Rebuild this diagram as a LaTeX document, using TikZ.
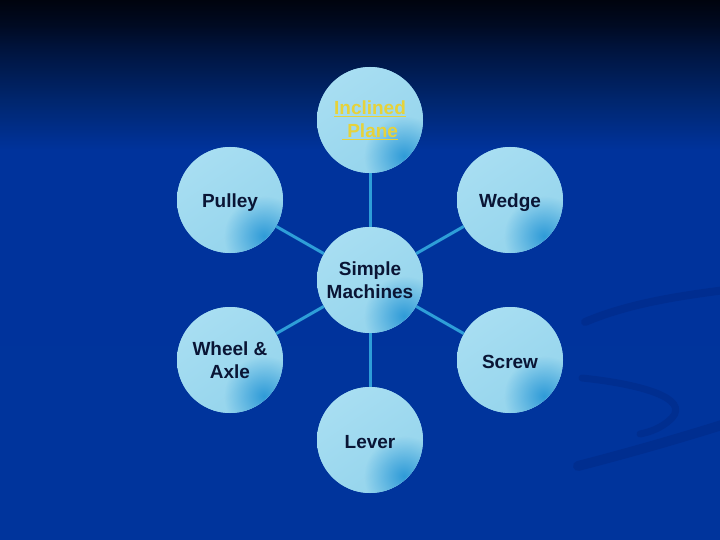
\documentclass[tikz,border=0pt]{standalone}
\usepackage{fontspec}
\setmainfont{Liberation Sans}
\usetikzlibrary{fadings}
\tikzfading[name=spotfade, inner color=transparent!0, outer color=transparent!100]
\definecolor{bgtop}{HTML}{00040E}
\definecolor{bgT}{HTML}{000A22}
\definecolor{bgA}{HTML}{00143E}
\definecolor{bgB}{HTML}{00266E}
\definecolor{bgC}{HTML}{00339C}
\definecolor{bgbot}{HTML}{00349C}
\definecolor{circbase}{HTML}{94D4EC}
\definecolor{hilite}{HTML}{A8DEF2}
\definecolor{spot}{HTML}{2F9BD8}
\definecolor{txt}{HTML}{0A1535}
\definecolor{linkc}{HTML}{2E9ED8}
\definecolor{linkyel}{HTML}{E6D23A}
\definecolor{swoosh}{HTML}{00257E}
\pgfdeclareverticalshading{slidebg}{100bp}{color(0bp)=(bgbot); color(25bp)=(bgbot); color(61.1bp)=(bgC); color(65.7bp)=(bgB); color(70.4bp)=(bgA); color(72.7bp)=(bgT); color(75bp)=(bgtop); color(100bp)=(bgtop)}
\begin{document}
\begin{tikzpicture}[x=1pt,y=-1pt,
  mach/.style={circle, minimum size=106pt, inner sep=0pt, fill=circbase, align=center, text=txt,
    font=\bfseries\fontsize{19}{23}\selectfont,
    path picture={
      \shade[top color=hilite, bottom color=circbase, shading angle=35]
        (path picture bounding box.south west) rectangle (path picture bounding box.north east);
      \fill[spot, path fading=spotfade] ([shift={(34,36)}]path picture bounding box.center) circle (40);
    }},
  lowdesc/.style={text height=17pt, text depth=1.2pt},
  lownodesc/.style={text height=17.7pt, text depth=0pt},
  link/.style={draw=linkc, line width=3pt},
  swo/.style={draw=swoosh, opacity=0.38, line cap=round}]
\useasboundingbox (0,0) rectangle (720,540);
\shade[shading=slidebg] (0,0) rectangle (720,540);
% faint background swooshes
\draw[swo, line width=8pt] (585,322) .. controls (630,303) and (680,296) .. (725,290);
\draw[swo, line width=7pt] (582,378) .. controls (640,384) and (690,398) .. (672,418) .. controls (662,428) and (650,432) .. (640,434);
\draw[swo, line width=10pt] (578,466) .. controls (640,450) and (690,435) .. (725,424);
% nodes
\node[mach] (c)  at (370,280) {Simple\\Machines};
\node[mach, text=linkyel] (ip) at (370,120) {\underline{Inclined}\\\underline{\ Plane}};
\node[mach, lowdesc] (pu) at (230,200) {Pulley};
\node[mach, lowdesc] (we) at (510,200) {Wedge};
\node[mach] (wa) at (230,360) {Wheel \&\\Axle};
\node[mach, lownodesc] (sc) at (510,360) {Screw};
\node[mach, lownodesc] (le) at (370,440) {Lever};
% connectors
\draw[link] (c) -- (ip);
\draw[link] (c) -- (pu);
\draw[link] (c) -- (we);
\draw[link] (c) -- (wa);
\draw[link] (c) -- (sc);
\draw[link] (c) -- (le);
\end{tikzpicture}
\end{document}
